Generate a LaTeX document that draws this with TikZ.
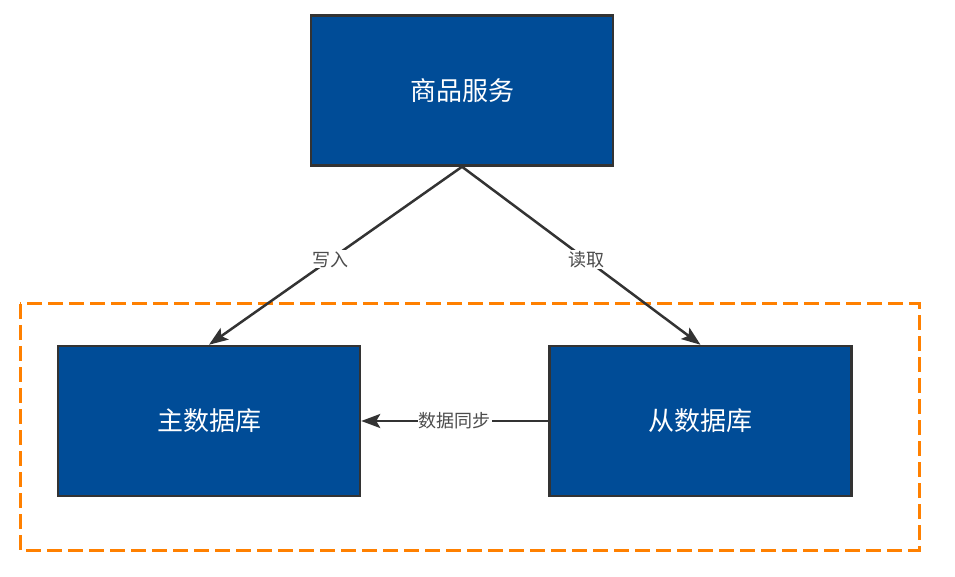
\documentclass[tikz,border=0pt]{standalone}
\usepackage{fontspec}
\setmainfont{Noto Sans CJK SC}
\usetikzlibrary{
  positioning,
  arrows.meta}

\tikzset{
  dbbox/.style={
    draw=black!80,
    line width=2.5pt,
    fill={rgb,255:red,0;green,76;blue,151},
    text=white,
    minimum width=302pt,
    minimum height=150pt,
    font=\fontsize{26}{30}\selectfont
  },
  flow/.style={
    draw=black!80,
    line width=2.5pt,
    -{Stealth[length=19pt,width=14pt,inset=4pt]}
  },
  flowlabel/.style={
    fill=white,
    text=black!70,
    inner sep=1pt,
    font=\fontsize{18}{20}\selectfont
  }
}

\begin{document}
\begin{tikzpicture}[x=1pt,y=1pt]%
  \useasboundingbox (0,0) rectangle (955,576);

  % Database group
  \draw[
    draw={rgb,255:red,255;green,128;blue,0},
    line width=3pt,
    dash pattern=on 15pt off 6pt
  ] (20,272) rectangle (919,26);

  % Service
  \node[dbbox] (svc) at (462,485.5) {商品服务};

  % Databases
  \node[dbbox] (master) at (209,155) {主数据库};
  \node[dbbox] (slave) at (700.5,155) {从数据库};

  % Connectors
  \draw[flow] (svc.south) -- (master.north)
    node[flowlabel, pos=0.52] (write) {写入};
  \draw[flow] (svc.south) -- (slave.north)
    node[flowlabel, pos=0.52] (read) {读取};
  \draw[flow] (slave.west) -- (master.east)
    node[flowlabel, midway] (sync) {数据同步};

\end{tikzpicture}
\end{document}
